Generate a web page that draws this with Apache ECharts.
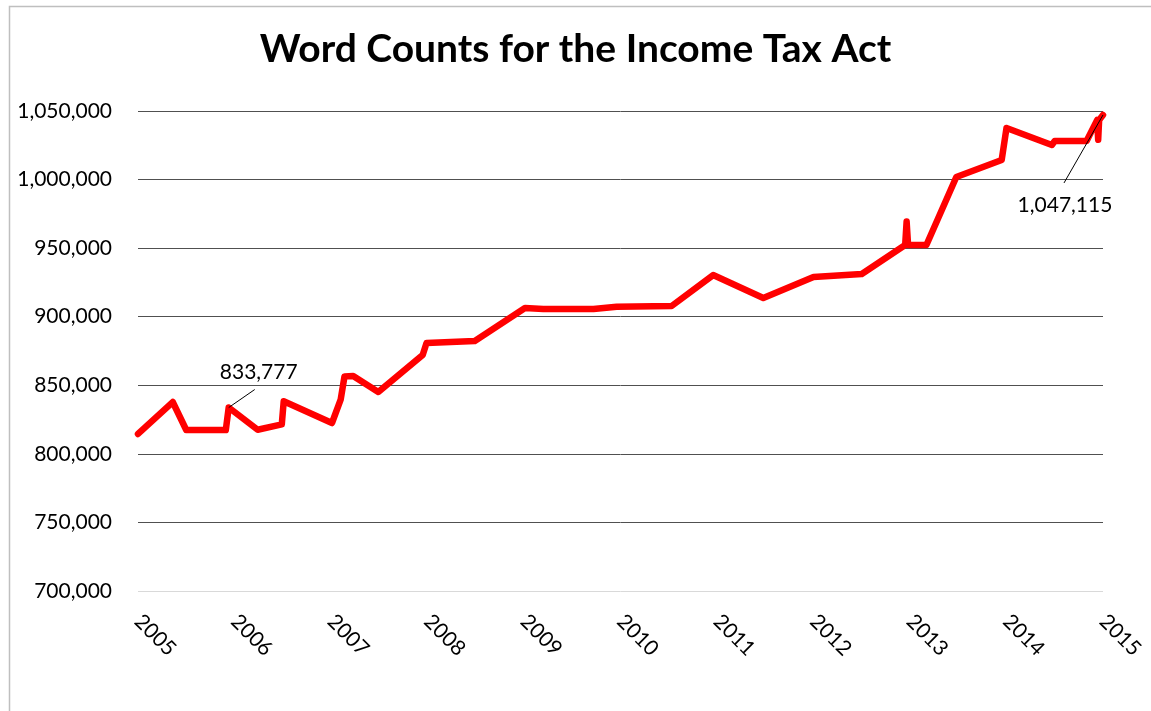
<!DOCTYPE html>
<html>
<head>
<meta charset="utf-8">
<script src="https://cdn.jsdelivr.net/npm/echarts@6/dist/echarts.min.js"></script>
<style>
html,body{margin:0;padding:0;background:#fff;}
#main{width:1151px;height:711px;}
</style>
</head>
<body>
<div id="main"></div>
<script>
// Decimal-year dates of each revision and the word count at that date
const dates = [2005.00, 2005.36, 2005.50, 2005.91, 2005.94, 2006.24, 2006.49, 2006.51, 2007.01, 2007.10,
  2007.14, 2007.23, 2007.49, 2007.95, 2007.99, 2008.49, 2009.01, 2009.20, 2009.72, 2009.96,
  2010.53, 2010.96, 2011.48, 2012.00, 2012.50, 2012.95, 2012.965, 2012.98, 2013.17, 2013.48,
  2013.95, 2014.00, 2014.47, 2014.50, 2014.83, 2014.94, 2014.95, 2014.96, 2015.00];
const words = [814500, 837800, 817400, 817400, 833777, 817600, 821500, 838300, 822500, 839500,
  856500, 856800, 845100, 872100, 880800, 882300, 906300, 905600, 905600, 907300,
  907800, 930400, 913600, 929000, 931100, 952300, 969500, 952300, 952300, 1001900,
  1014300, 1037600, 1025200, 1028100, 1028100, 1043500, 1029000, 1043500, 1047115];
const yTicks = [700000, 750000, 800000, 850000, 900000, 950000, 1000000, 1050000];
const xYears = [2005, 2006, 2007, 2008, 2009, 2010, 2011, 2012, 2013, 2014, 2015];
// Annotated points
const annDates = [2005.94, 2015.00];
const annValues = [833777, 1047115];
const annText = ['833,777', '1,047,115'];

const FONT = 'Lato, "Open Sans", sans-serif';
const chart = echarts.init(document.getElementById('main'), null, {renderer: 'canvas'});
const fmt = v => String(v).replace(/\B(?=(\d{3})+(?!\d))/g, ',');

chart.setOption({
  backgroundColor: '#ffffff',
  animation: false,
  title: {
    text: 'Word Counts for the Income Tax Act',
    left: 'center',
    top: 25,
    textStyle: {fontFamily: FONT, fontWeight: 'bold', fontSize: 39, color: '#000'}
  },
  grid: {left: 138, right: 48, top: 111, bottom: 120, containLabel: false},
  xAxis: {
    type: 'value',
    min: xYears[0],
    max: xYears[xYears.length - 1],
    interval: 1,
    axisLine: {show: false},
    axisTick: {show: false},
    splitLine: {show: false},
    axisLabel: {
      rotate: -45,
      margin: 27,
      fontFamily: FONT,
      fontSize: 21,
      color: '#000',
      formatter: v => String(v)
    }
  },
  yAxis: {
    type: 'value',
    min: yTicks[0],
    max: yTicks[yTicks.length - 1],
    interval: 50000,
    axisLine: {show: false},
    axisTick: {show: false},
    splitLine: {
      show: true,
      lineStyle: {color: ['#d9d9d9', '#505050', '#505050', '#505050', '#505050', '#505050', '#505050', '#505050'], width: 1}
    },
    axisLabel: {
      margin: 26,
      fontFamily: FONT,
      fontSize: 21,
      color: '#000',
      formatter: v => fmt(v)
    }
  },
  series: [{
    type: 'line',
    data: dates.map((d, i) => [d, words[i]]),
    showSymbol: false,
    symbol: 'none',
    lineStyle: {color: '#ff0000', width: 6.5, join: 'round', cap: 'round'},
    itemStyle: {color: '#ff0000'},
    clip: false
  }]
});

// annotations: text and leader lines positioned from data via the axes
const offsets = [
  {tx: 30, ty: -35, lx: 26, ly: -18},
  {tx: -38, ty: 90, lx: -39, ly: 68}
];
const graphics = [{
  type: 'rect',
  left: 7, top: 4,
  shape: {width: 1143, height: 730},
  style: {fill: 'none', stroke: '#bfbfbf', lineWidth: 1.5},
  silent: true
}];
annDates.forEach((d, i) => {
  const p = chart.convertToPixel({gridIndex: 0}, [d, annValues[i]]);
  const o = offsets[i];
  graphics.push({
    type: 'line',
    shape: {x1: p[0], y1: p[1], x2: p[0] + o.lx, y2: p[1] + o.ly},
    style: {stroke: '#000', lineWidth: 1},
    z: 100
  });
  graphics.push({
    type: 'text',
    x: p[0] + o.tx, y: p[1] + o.ty,
    style: {text: annText[i], fontFamily: FONT, fontSize: 21, fill: '#000', align: 'center', verticalAlign: 'middle'},
    z: 100
  });
});
chart.setOption({graphic: graphics});
</script>
</body>
</html>
